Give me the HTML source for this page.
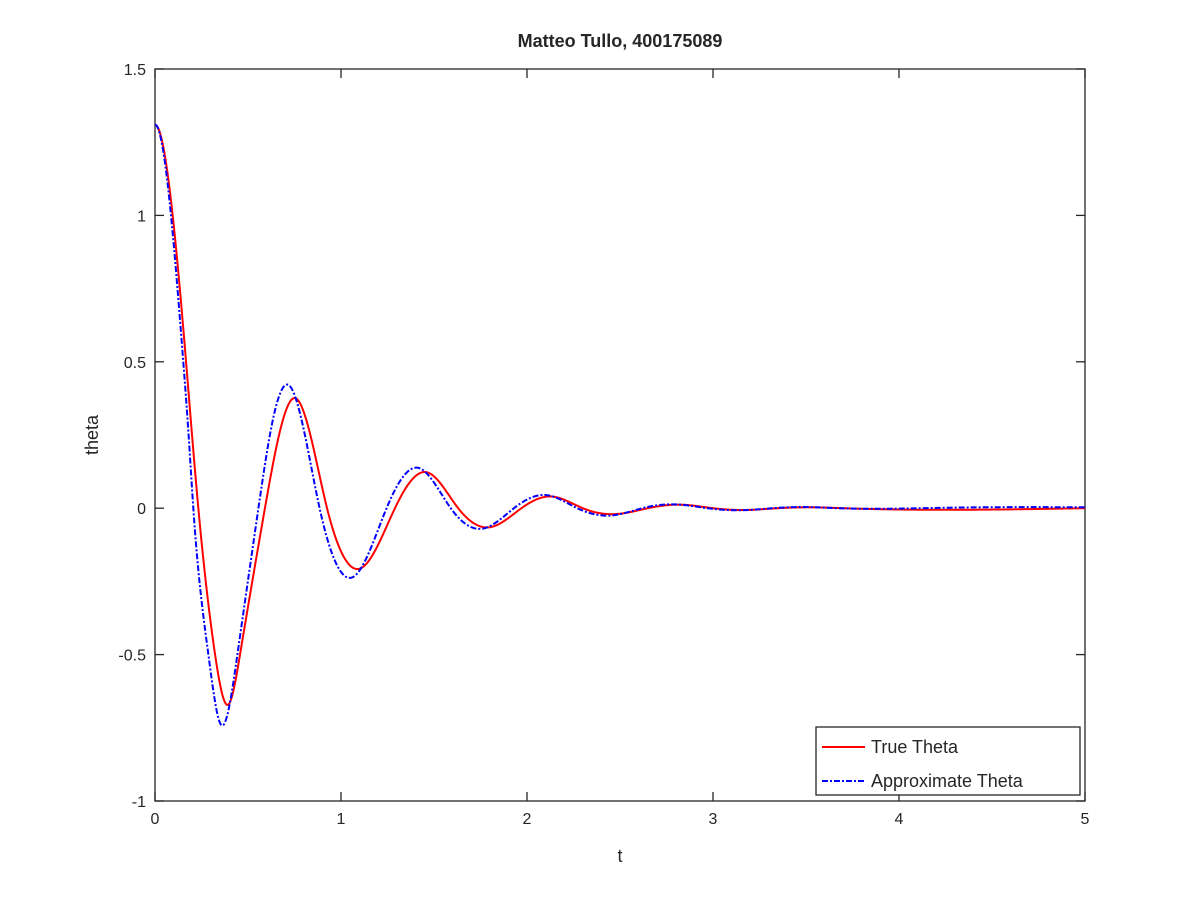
<!DOCTYPE html>
<html><head><meta charset="utf-8"><style>
body{margin:0;background:#fff;font-family:"Liberation Sans",sans-serif}
svg text{font-family:"Liberation Sans",sans-serif;fill:#262626}
</style></head><body>
<svg width="1200" height="900" xmlns="http://www.w3.org/2000/svg">
<rect x="0" y="0" width="1200" height="900" fill="#fff"/>
<g id="g"></g>
</svg>
<script>
const xTicks=[0,1,2,3,4,5];
const yTicks=[-1,-0.5,0,0.5,1,1.5];
const xTickLabels=["0","1","2","3","4","5"];
const yTickLabels=["-1","-0.5","0","0.5","1","1.5"];
const trueT=[0,0.095,0.167,0.197,0.233,0.323,0.394,0.457,0.591,0.687,0.753,0.925,1.107,1.29,1.46,1.63,1.8,1.97,2.13,2.3,2.48,2.65,2.83,3.0,3.18,3.35,3.53,3.7,5];
const trueTheta=[1.31,1.0,0.5,0.266,0,-0.5,-0.671,-0.5,0,0.3,0.376,0,-0.205,0,0.123,0,-0.065,0,0.04,0,-0.02,0,0.012,0,-0.006,0,0.003,0,0];
const apxT=[0,0.086,0.152,0.179,0.206,0.287,0.353,0.443,0.556,0.633,0.72,0.885,1.065,1.245,1.414,1.59,1.76,1.93,2.1,2.27,2.45,2.62,2.8,2.97,3.15,3.32,3.5,3.67,3.85,4.3,5];
const apxTheta=[1.31,1.0,0.5,0.266,0,-0.5,-0.738,-0.5,0,0.3,0.42,0,-0.235,0,0.138,0,-0.07,0,0.045,0,-0.025,0,0.013,0,-0.007,0,0.004,0,-0.002,0.002,0.003];
const L=155,R=1085,T=69,B=801;
const sx=v=>L+(v-0)/(5-0)*(R-L);
const sy=v=>B-(v+1)/(2.5)*(B-T);
const NS="http://www.w3.org/2000/svg";
const g=document.getElementById('g');
function mk(tag,attrs,name,txt){const e=document.createElementNS(NS,tag);for(const k in attrs)e.setAttribute(k,attrs[k]);


if(txt!==undefined)e.textContent=txt;g.appendChild(e);return e;}
mk('rect',{x:L,y:T,width:R-L,height:B-T,fill:'#fff',stroke:'#262626','stroke-width':1.3},'plot-area');
xTicks.forEach((v,i)=>{const x=sx(v);
mk('line',{x1:x,y1:B,x2:x,y2:B-9,stroke:'#262626','stroke-width':1.3},'x-tick');
mk('line',{x1:x,y1:T,x2:x,y2:T+9,stroke:'#262626','stroke-width':1.3},'x-tick-top');
mk('text',{x:x,y:B+23,'font-size':16,'text-anchor':'middle'},'x-tick-label',xTickLabels[i]);});
yTicks.forEach((v,i)=>{const y=sy(v);
mk('line',{x1:L,y1:y,x2:L+9,y2:y,stroke:'#262626','stroke-width':1.3},'y-tick');
mk('line',{x1:R,y1:y,x2:R-9,y2:y,stroke:'#262626','stroke-width':1.3},'y-tick-right');
mk('text',{x:L-9,y:y+6,'font-size':16,'text-anchor':'end'},'y-tick-label',yTickLabels[i]);});
// clamped cubic spline through data points (rendering only), start slope 0
function path(ts,vs){const n=ts.length,h=[],a=new Array(n).fill(0),b=new Array(n).fill(0),c=new Array(n).fill(0),r=new Array(n).fill(0);
for(let i=0;i<n-1;i++)h.push(ts[i+1]-ts[i]);
b[0]=2*h[0];c[0]=h[0];r[0]=6*((vs[1]-vs[0])/h[0]-0);
for(let i=1;i<n-1;i++){a[i]=h[i-1];b[i]=2*(h[i-1]+h[i]);c[i]=h[i];r[i]=6*((vs[i+1]-vs[i])/h[i]-(vs[i]-vs[i-1])/h[i-1]);}
b[n-1]=1;r[n-1]=0;
for(let i=1;i<n;i++){const w=a[i]/b[i-1];b[i]-=w*c[i-1];r[i]-=w*r[i-1];}
const M=new Array(n);M[n-1]=r[n-1]/b[n-1];
for(let i=n-2;i>=0;i--)M[i]=(r[i]-c[i]*M[i+1])/b[i];
let s='';
for(let i=0;i<n-1;i++){const steps=Math.max(4,Math.ceil(h[i]*200));
for(let k=(i==0?0:1);k<=steps;k++){const t=ts[i]+h[i]*k/steps;const A=(ts[i+1]-t)/h[i],Bc=(t-ts[i])/h[i];
const v=A*vs[i]+Bc*vs[i+1]+((A*A*A-A)*M[i]+(Bc*Bc*Bc-Bc)*M[i+1])*h[i]*h[i]/6;
s+=(s?'L':'M')+sx(t).toFixed(2)+','+sy(v).toFixed(2);}}
return s;}
mk('path',{d:path(trueT,trueTheta),fill:'none',stroke:'#ff0000','stroke-width':2,'stroke-linejoin':'round'},'true-theta-line');
mk('path',{d:path(apxT,apxTheta),fill:'none',stroke:'#0000ff','stroke-width':2,'stroke-dasharray':'6,2,2,2'},'approx-theta-line');
mk('text',{x:620,y:47,'font-size':18,'font-weight':'bold','text-anchor':'middle'},'chart-title','Matteo Tullo, 400175089');
mk('text',{x:620,y:862,'font-size':18,'text-anchor':'middle'},'x-axis-title','t');
mk('text',{x:98,y:435,'font-size':18,'text-anchor':'middle',transform:'rotate(-90 98 435)'},'y-axis-title','theta');
mk('rect',{x:816,y:727,width:264,height:68,fill:'#fff',stroke:'#262626','stroke-width':1.3},'legend');
mk('line',{x1:822,y1:747,x2:865,y2:747,stroke:'#ff0000','stroke-width':2},'legend-true-swatch');
mk('text',{x:871,y:753,'font-size':18},'legend-true-label','True Theta');
mk('line',{x1:822,y1:781,x2:865,y2:781,stroke:'#0000ff','stroke-width':2,'stroke-dasharray':'6,2,2,2'},'legend-approx-swatch');
mk('text',{x:871,y:787,'font-size':18},'legend-approx-label','Approximate Theta');
</script>
</body></html>
